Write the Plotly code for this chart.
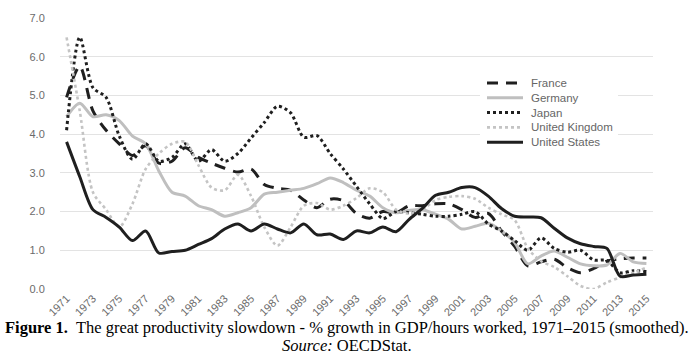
import plotly.graph_objects as go

years = list(range(1971, 2016))
tick_years = list(range(1971, 2016, 2))
tick_labels = [str(y) for y in tick_years]
y_ticks = [0, 1, 2, 3, 4, 5, 6, 7]

france = [4.95, 5.75, 4.6, 4.1, 3.75, 3.45, 3.7, 3.25, 3.3, 3.65,
          3.4, 3.25, 3.12, 3.02, 3.1, 2.7, 2.6, 2.55, 2.3, 2.1,
          2.32, 2.28, 1.95, 1.83, 2.0, 1.97, 2.15, 2.15, 2.2, 2.2,
          2.05, 1.85, 1.95, 1.5, 1.1, 0.6, 0.7, 0.77, 0.55, 0.42,
          0.53, 0.72, 0.78, 0.8, 0.8]
germany = [4.45, 4.8, 4.45, 4.5, 4.35, 3.95, 3.75, 3.05, 2.5, 2.4,
           2.15, 2.05, 1.88, 1.97, 2.1, 2.45, 2.5, 2.55, 2.6, 2.72,
           2.87, 2.75, 2.55, 2.4, 2.1, 1.97, 2.03, 2.05, 1.93, 1.8,
           1.55, 1.62, 1.7, 1.5, 1.2, 0.65, 0.85, 0.98, 0.82, 0.65,
           0.6, 0.62, 0.92, 0.7, 0.66]
japan = [4.1, 6.5, 5.2, 4.95, 3.95, 3.35, 3.75, 3.3, 3.4, 3.75,
         3.3, 3.6, 3.3, 3.5, 3.9, 4.3, 4.72, 4.55, 3.92, 3.96,
         3.5, 3.1, 2.65, 2.2, 1.82, 2.0, 1.97, 1.93, 1.88, 1.88,
         1.93, 2.0, 1.68, 1.5, 1.25, 1.0, 1.32, 1.05, 0.95, 1.0,
         0.75, 0.74, 0.42, 0.47, 0.45]
uk = [6.5, 4.6, 2.5, 2.05, 1.6, 2.2, 3.1, 3.5, 3.75, 3.8,
      3.2, 2.62, 2.55, 2.95, 2.4, 1.6, 1.12, 1.6, 2.15, 2.22,
      2.05, 2.15, 2.35, 2.6, 2.5, 2.05, 1.95, 2.05, 2.3, 2.38,
      2.4, 2.33, 2.1, 1.93, 1.78, 1.05, 0.72, 0.57, 0.33, 0.08,
      0.0, 0.17, 0.3, 0.42, 0.55]
us = [3.8, 2.9, 2.05, 1.85, 1.6, 1.25, 1.5, 0.93, 0.97, 1.0,
      1.15, 1.3, 1.55, 1.68, 1.5, 1.68, 1.55, 1.45, 1.68, 1.4,
      1.42, 1.28, 1.5, 1.45, 1.6, 1.48, 1.8, 2.08, 2.42, 2.5,
      2.62, 2.62, 2.4, 2.08, 1.88, 1.86, 1.84, 1.57, 1.32, 1.17,
      1.1, 1.05, 0.33, 0.36, 0.38]

series = [
    ("France", france, dict(color="#1f1f1f", width=3, dash="11px,8px")),
    ("Germany", germany, dict(color="#bfbfbf", width=3, dash="solid")),
    ("Japan", japan, dict(color="#1f1f1f", width=3, dash="3px,3px")),
    ("United Kingdom", uk, dict(color="#c4c4c4", width=2.6, dash="3px,3px")),
    ("United States", us, dict(color="#1f1f1f", width=3, dash="solid")),
]

fig = go.Figure()
for name, vals, line in series:
    fig.add_trace(go.Scatter(x=years, y=vals, name=name, mode="lines",
                             showlegend=False,
                             line=dict(shape="spline", smoothing=0.8, **line)))

tick_font = dict(family="Liberation Sans, Arial, sans-serif", size=11, color="#6b6b6b")

fig.update_layout(
    width=700, height=354,
    margin=dict(l=60, r=47, t=14, b=65),
    paper_bgcolor="white", plot_bgcolor="white",
    showlegend=False,
    xaxis=dict(range=[1970.5, 2015.5], tickvals=tick_years, ticktext=tick_labels,
               tickangle=-45, showgrid=False, zeroline=False, showline=False,
               ticks="", tickfont=tick_font),
    yaxis=dict(range=[0, 7], tickvals=y_ticks, tickformat=".1f",
               showgrid=True, gridcolor="#e3e3e3", gridwidth=1,
               zeroline=False, showline=False,
               ticks="outside", ticklen=12, tickcolor="rgba(0,0,0,0)",
               tickfont=tick_font),
)

# Compact legend (Excel-style spacing) built from the series definitions
plot_l, plot_w, plot_b, plot_h = 60, 593, 289, 275
def px_x(p):
    return (p - plot_l) / plot_w
def px_y(p):
    return (plot_b - p) / plot_h

fig.add_shape(type="rect", xref="paper", yref="paper",
              x0=px_x(480), x1=px_x(618), y0=px_y(149), y1=px_y(71),
              fillcolor="white", line=dict(width=0), layer="above")
row0, row_gap = 80, 15
for i, (name, vals, line) in enumerate(series):
    yy = px_y(row0 + i * row_gap)
    fig.add_shape(type="line", xref="paper", yref="paper",
                  x0=px_x(487), x1=px_x(523), y0=yy, y1=yy,
                  line=dict(color=line["color"], width=line["width"], dash=line["dash"]),
                  layer="above")
    fig.add_annotation(xref="paper", yref="paper", x=px_x(529), y=yy,
                       xanchor="left", yanchor="middle", showarrow=False,
                       text=name, font=dict(family="Liberation Sans, Arial, sans-serif",
                                            size=11.5, color="#666666"))

cap_font = dict(family="Liberation Serif, Times New Roman, serif", size=16.5, color="black")
fig.add_annotation(xref="paper", yref="paper", x=px_x(347), y=px_y(328),
                   xanchor="center", yanchor="middle", showarrow=False,
                   text="<b>Figure 1.</b>  The great productivity slowdown - % growth in GDP/hours worked, 1971\u20132015 (smoothed).",
                   font=cap_font)
fig.add_annotation(xref="paper", yref="paper", x=px_x(347), y=px_y(346),
                   xanchor="center", yanchor="middle", showarrow=False,
                   text="<i>Source:</i> OECDStat.", font=cap_font)

fig.write_html("out.html")
